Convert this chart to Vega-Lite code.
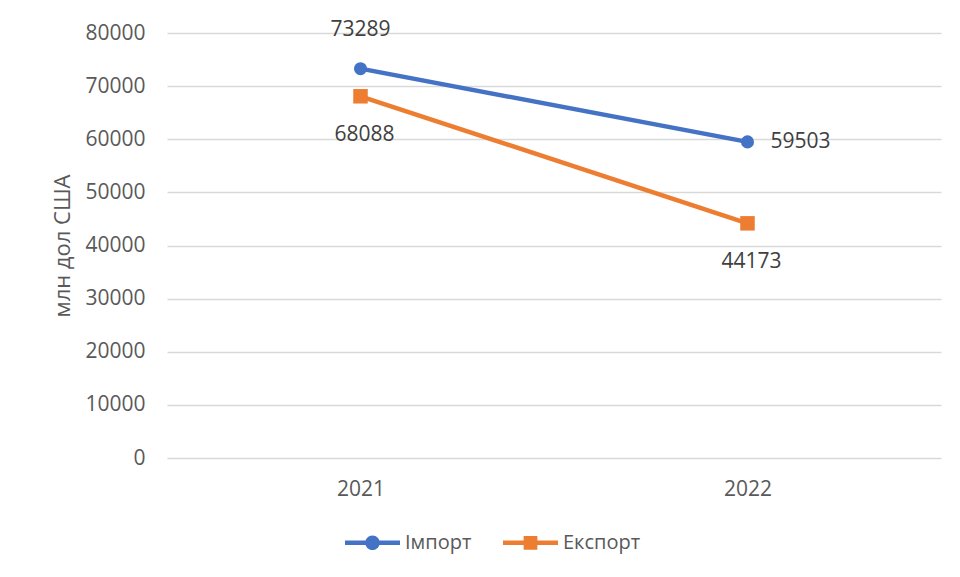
{
  "$schema": "https://vega.github.io/schema/vega-lite/v6.json",
  "width": 774,
  "height": 425,
  "autosize": {"type": "none"},
  "padding": {"left": 167, "top": 33, "right": 19, "bottom": 119},
  "background": "white",
  "config": {
    "view": {"stroke": null},
    "font": "Open Sans",
    "axis": {"labelFont": "Open Sans", "titleFont": "Open Sans", "labelColor": "#595959", "titleColor": "#595959"}
  },
  "data": {
    "values": [
      {"year": "2021", "series": "Імпорт", "value": 73289},
      {"year": "2022", "series": "Імпорт", "value": 59503},
      {"year": "2021", "series": "Експорт", "value": 68088},
      {"year": "2022", "series": "Експорт", "value": 44173}
    ]
  },
  "encoding": {
    "x": {
      "field": "year", "type": "ordinal",
      "scale": {"type": "point", "padding": 0.5},
      "axis": {"title": null, "labelAngle": 0, "ticks": false, "domain": false, "grid": false, "labelFontSize": 21, "labelPadding": 20}
    },
    "y": {
      "field": "value", "type": "quantitative",
      "scale": {"domain": [0, 80000], "nice": false},
      "axis": {
        "title": "млн дол США", "titleFontSize": 22, "titleFontWeight": "normal", "titlePadding": 10,
        "values": [0, 10000, 20000, 30000, 40000, 50000, 60000, 70000, 80000],
        "format": "d", "labelFontSize": 21, "labelPadding": 22,
        "ticks": false, "domain": false, "gridColor": "#d9d9d9", "gridWidth": 1.5
      }
    },
    "color": {
      "field": "series", "type": "nominal",
      "scale": {"domain": ["Імпорт", "Експорт"], "range": ["#4472C4", "#ED7D31"]},
      "legend": {
        "orient": "none", "legendX": 178, "legendY": 482, "direction": "horizontal", "title": null,
        "symbolSize": 3025, "symbolStrokeWidth": 0,
        "labelFontSize": 20, "labelColor": "#595959", "labelFont": "Open Sans",
        "columnPadding": 31, "labelOffset": 5,
        "encode": {
          "symbols": {
            "update": {
              "shape": {"signal": "datum.value === 'Імпорт' ? 'M-1,-0.082H1V0.082H-1Z M0.265,0A0.265,0.265 0 1,1 -0.265,0A0.265,0.265 0 1,1 0.265,0Z' : 'M-1,-0.082H1V0.082H-1Z M-0.25,-0.25H0.25V0.25H-0.25Z'"},
              "fill": {"signal": "datum.value === 'Імпорт' ? '#4472C4' : '#ED7D31'"},
              "strokeWidth": {"value": 0},
              "opacity": {"value": 1}
            }
          }
        }
      }
    }
  },
  "layer": [
    {"mark": {"type": "line", "strokeWidth": 4.5}},
    {
      "transform": [{"filter": "datum.series === 'Імпорт'"}],
      "mark": {"type": "point", "filled": true, "opacity": 1, "shape": "circle", "size": 170}
    },
    {
      "transform": [{"filter": "datum.series === 'Експорт'"}],
      "mark": {"type": "point", "filled": true, "opacity": 1, "shape": "square", "size": 210}
    },
    {
      "transform": [{"filter": "datum.series === 'Імпорт' && datum.year === '2021'"}],
      "mark": {"type": "text", "fontSize": 21, "dy": -39, "font": "Open Sans"},
      "encoding": {"text": {"field": "value", "type": "quantitative", "format": "d"}, "color": {"value": "#404040"}}
    },
    {
      "transform": [{"filter": "datum.series === 'Імпорт' && datum.year === '2022'"}],
      "mark": {"type": "text", "fontSize": 21, "align": "left", "dx": 23, "font": "Open Sans"},
      "encoding": {"text": {"field": "value", "type": "quantitative", "format": "d"}, "color": {"value": "#404040"}}
    },
    {
      "transform": [{"filter": "datum.series === 'Експорт'"}],
      "mark": {"type": "text", "fontSize": 21, "dy": 39, "dx": 4, "font": "Open Sans"},
      "encoding": {"text": {"field": "value", "type": "quantitative", "format": "d"}, "color": {"value": "#404040"}}
    }
  ]
}
